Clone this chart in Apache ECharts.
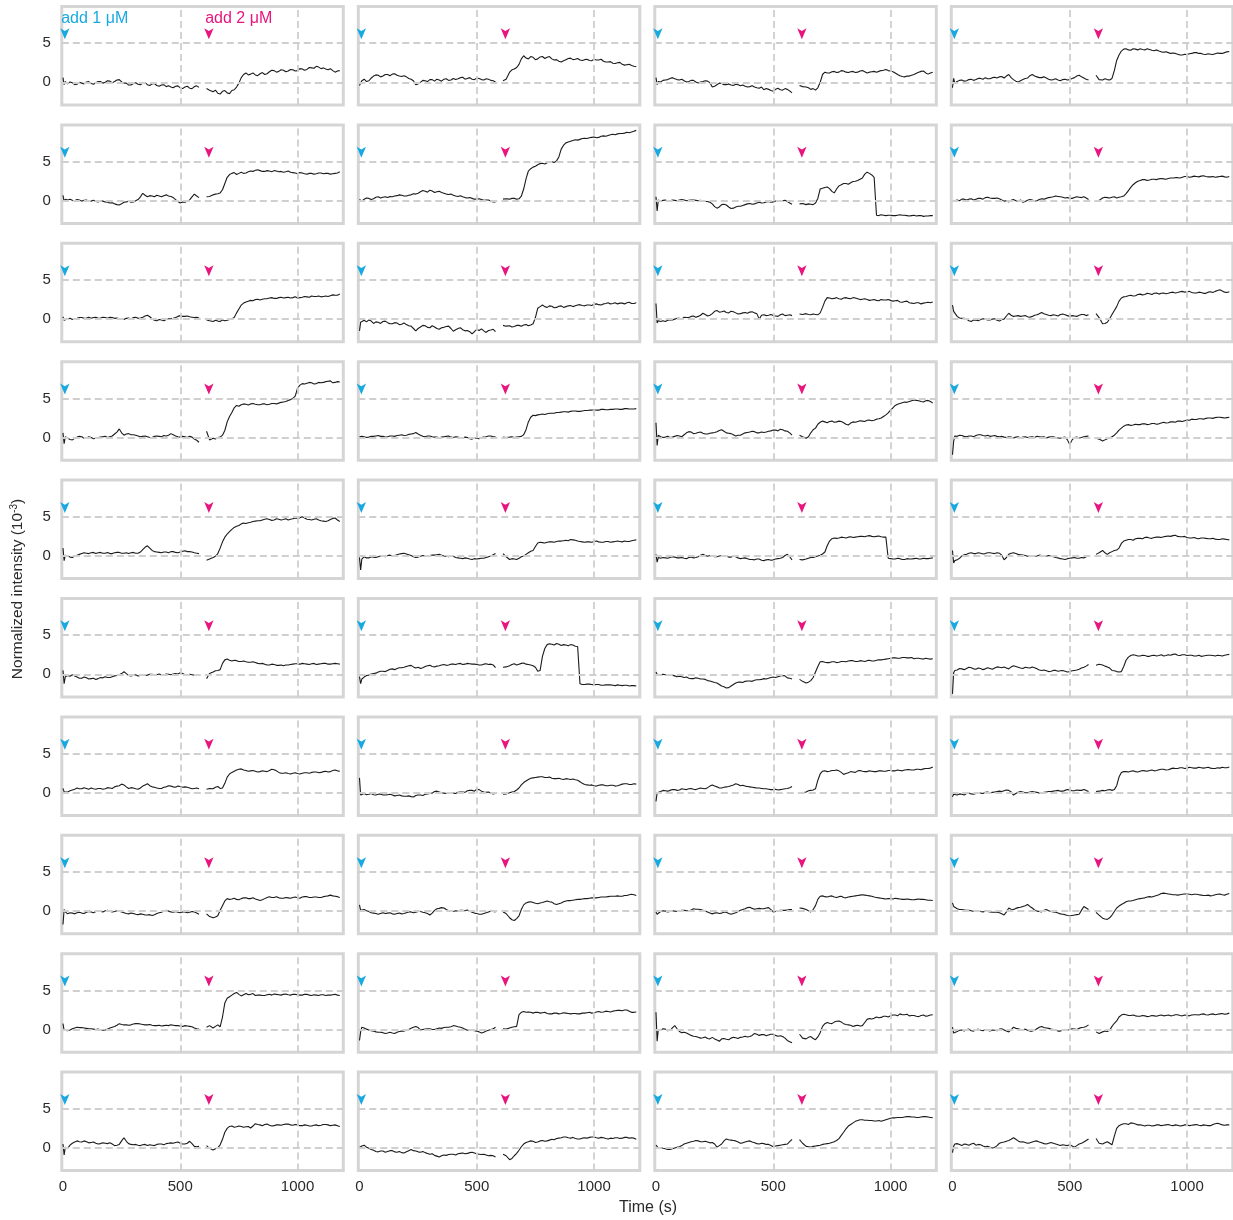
<!DOCTYPE html>
<html>
<head>
<meta charset="utf-8">
<title>Normalized intensity traces</title>
<script src="https://cdn.jsdelivr.net/npm/echarts@6/dist/echarts.min.js"></script>
<style>
  html, body { margin: 0; padding: 0; background: #ffffff; }
  #chart { width: 1233px; height: 1220px; }
</style>
</head>
<body>
<div id="chart"></div>
<script>
// ---- sampling times (s) of the two recording segments ----
// main samples
const timeBefore = [0, 5, 10, 20, 40, 60, 80, 100, 120, 140, 160, 180, 200, 220, 240, 260, 280, 300,
  320, 340, 360, 380, 400, 420, 440, 460, 480, 500, 520, 540, 560, 580];
const timeAfter = [612, 625, 640, 660, 680, 700, 720, 740, 760, 780, 800, 820, 840, 860, 880, 900,
  920, 940, 960, 980, 1000, 1020, 1040, 1060, 1080, 1100, 1120, 1140, 1160, 1180];
// in-between samples
const timeBeforeMid = [30, 50, 70, 90, 110, 130, 150, 170, 190, 210, 230, 250, 270, 290, 310, 330,
  350, 370, 390, 410, 430, 450, 470, 490, 510, 530, 550, 570];
const timeAfterMid = [650, 670, 690, 710, 730, 750, 770, 790, 810, 830, 850, 870, 890, 910, 930,
  950, 970, 990, 1010, 1030, 1050, 1070, 1090, 1110, 1130, 1150, 1170];

// ---- axis ticks / grid lines ----
const xTickValues = [0, 500, 1000];
const yTickValues = [0, 5];
const xGridValues = [500, 1000];
const yGridValues = [0, 5];

// ---- additions (time in s) ----
const additionTimes = [8, 622];
const additionLabels = ['add 1 \u03bcM', 'add 2 \u03bcM'];
const arrowLevel = 5.5;

// ---- traces, normalized intensity (10^-3):
// [before (timeBefore), after (timeAfter), before (timeBeforeMid), after (timeAfterMid)] ----
const r1c1 = [
  [0.6,-0.3,0.1,-0.2,-0.05,-0.25,-0.1,0.05,-0.15,-0.05,0.1,0.0,0.15,0.1,0.35,-0.1,-0.35,-0.15,-0.25,-0.1,-0.3,-0.2,-0.4,-0.35,-0.55,-0.6,-0.5,-0.7,-0.6,-0.75,-0.55,-0.65],
  [-0.8,-1.0,-1.2,-1.4,-1.15,-1.35,-1.05,-0.6,0.6,1.2,1.05,0.95,1.1,1.0,1.35,1.5,1.4,1.55,1.45,1.6,1.5,1.7,1.65,1.85,2.05,1.75,1.7,1.75,1.3,1.5],
  [0.05,-0.3,0.0,-0.2,0.1,-0.25,0.1,-0.1,0.2,-0.05,0.3,0.05,-0.1,-0.35,-0.05,-0.3,-0.05,-0.4,-0.15,-0.5,-0.3,-0.45,-0.7,-0.45,-0.8,-0.5,-0.8,-0.45],
  [-1.0,-1.5,-1.05,-1.45,-0.95,-0.1,1.0,0.95,1.2,0.85,1.25,1.1,1.55,1.3,1.6,1.35,1.65,1.45,1.75,1.55,1.9,1.8,1.95,1.85,1.6,1.5,1.45]];
const r1c2 = [
  [-0.4,-0.1,0.2,0.4,0.2,0.8,0.9,0.8,1.0,1.05,0.9,0.75,0.7,0.4,-0.3,0.0,0.2,0.35,0.15,0.3,0.4,0.25,0.5,0.45,0.65,0.5,0.4,0.55,0.35,0.45,0.25,0.05],
  [0.2,0.4,1.3,1.7,2.3,3.4,3.0,3.2,3.0,3.3,3.2,3.0,2.9,2.6,2.9,3.1,2.95,2.85,2.9,2.8,2.95,2.85,2.7,2.6,2.45,2.5,2.3,2.25,2.15,2.0],
  [0.1,0.55,0.95,0.7,1.0,0.85,1.1,0.8,0.85,0.5,0.2,-0.2,0.25,0.1,0.35,0.4,0.15,0.45,0.3,0.35,0.6,0.4,0.6,0.35,0.5,0.3,0.4,0.2],
  [1.6,1.9,3.0,3.1,3.3,2.9,3.25,3.05,3.3,2.85,2.7,2.75,3.05,2.9,3.05,2.8,2.95,2.75,2.85,2.95,2.6,2.65,2.4,2.55,2.2,2.3,2.05]];
const r1c3 = [
  [0.6,-0.3,0.1,0.05,0.3,0.5,0.45,0.3,0.2,0.1,0.25,-0.1,0.1,0.15,-0.6,-0.3,-0.15,-0.3,-0.35,-0.25,-0.45,-0.5,-0.55,-0.6,-0.75,-0.95,-0.9,-1.15,-0.75,-1.0,-0.9,-1.35],
  [-0.4,-0.55,-0.6,-0.9,-1.0,0.0,1.3,1.2,1.4,1.3,1.45,1.25,1.4,1.3,1.5,1.2,1.35,1.3,1.5,1.65,1.45,1.2,0.85,0.7,0.8,1.0,1.3,1.45,1.05,1.3],
  [0.25,0.35,0.6,0.35,0.4,0.05,0.25,0.05,0.05,0.2,-0.05,-0.5,-0.1,-0.3,-0.2,-0.4,-0.3,-0.35,-0.6,-0.45,-0.7,-0.6,-0.8,-1.05,-0.9,-0.95,-0.8,-1.1],
  [-0.7,-0.8,-0.7,1.0,1.2,1.35,1.25,1.5,1.3,1.35,1.25,1.45,1.35,1.3,1.4,1.4,1.55,1.5,1.35,1.0,0.75,0.8,0.9,1.15,1.4,1.2,1.2]];
const r1c4 = [
  [-0.7,0.5,-0.1,0.1,0.3,0.2,0.4,0.35,0.5,0.6,0.45,0.65,0.7,0.55,1.0,0.35,0.05,0.35,0.55,1.0,0.7,0.6,0.55,0.3,0.45,0.2,0.4,0.35,0.6,0.9,0.55,0.3],
  [0.9,0.35,0.3,0.35,0.5,2.8,4.0,4.3,4.1,4.25,4.3,4.15,4.2,4.05,4.0,3.85,3.8,3.75,3.6,3.5,3.55,3.7,3.8,3.7,3.55,3.6,3.65,3.7,3.8,3.95],
  [0.25,0.15,0.35,0.25,0.5,0.4,0.45,0.6,0.55,0.75,0.8,0.6,0.15,0.2,0.5,0.85,0.8,0.6,0.7,0.4,0.35,0.3,0.35,0.3,0.5,0.8,0.7,0.4],
  [0.45,0.3,1.5,3.5,4.25,4.15,4.3,4.15,4.2,4.3,4.1,4.15,3.9,3.9,3.7,3.7,3.5,3.6,3.65,3.8,3.7,3.6,3.65,3.55,3.75,3.7,3.9]];

const r2c1 = [
  [0.7,-0.1,0.2,0.1,0.05,0.15,-0.05,0.1,-0.05,-0.1,0.0,-0.15,-0.3,-0.4,-0.55,-0.2,-0.05,-0.15,0.15,0.95,0.5,0.6,0.7,0.5,0.75,0.55,0.15,-0.3,-0.2,0.1,0.85,0.4],
  [0.5,0.55,0.75,0.9,1.4,3.0,3.5,3.35,3.65,3.55,3.8,3.9,3.85,3.75,3.8,3.85,3.7,3.65,3.8,3.6,3.45,3.55,3.4,3.5,3.45,3.55,3.5,3.4,3.5,3.7],
  [0.2,0.0,0.1,0.05,-0.05,0.05,-0.15,-0.05,-0.2,-0.25,-0.5,-0.4,-0.15,-0.2,0.0,0.5,0.7,0.65,0.5,0.6,0.65,0.6,0.4,-0.1,-0.15,-0.05,0.5,0.6],
  [0.85,1.0,2.2,3.35,3.6,3.5,3.5,3.7,3.75,3.95,3.75,3.85,3.7,3.8,3.75,3.7,3.65,3.55,3.6,3.45,3.5,3.4,3.55,3.45,3.5,3.45,3.55]];
const r2c2 = [
  [0.15,-0.1,-0.05,0.2,0.3,0.25,0.5,0.45,0.4,0.5,0.65,0.7,0.6,0.75,0.85,1.15,1.2,1.35,1.05,1.2,0.95,0.8,0.7,0.55,0.5,0.35,0.3,0.2,0.15,0.1,-0.05,-0.15],
  [0.2,0.25,0.2,0.3,0.25,1.5,3.8,4.3,4.6,4.8,4.85,5.0,5.1,6.6,7.4,7.6,7.8,7.85,8.0,8.05,8.15,8.1,8.3,8.35,8.5,8.55,8.6,8.75,8.8,9.0],
  [0.35,0.15,0.45,0.35,0.5,0.55,0.6,0.75,0.6,0.7,0.9,0.95,1.3,1.1,1.25,1.15,1.05,0.85,0.85,0.6,0.65,0.4,0.4,0.2,0.25,0.05,0.1,-0.15],
  [0.3,0.2,0.6,2.8,4.1,4.4,4.75,4.7,4.95,4.9,5.6,7.1,7.5,7.7,7.75,7.95,7.95,8.1,8.05,8.25,8.25,8.45,8.45,8.6,8.65,8.7,8.9]];
const r2c3 = [
  [0.5,-1.3,0.1,-0.1,0.1,0.0,0.05,0.1,0.1,0.05,0.1,0.0,-0.05,-0.1,-0.4,-0.95,-0.5,-0.55,-1.0,-0.8,-0.7,-0.5,-0.35,-0.4,-0.2,-0.25,-0.1,-0.15,-0.05,0.0,-0.1,-0.45],
  [-0.4,-0.35,-0.5,-0.45,-0.3,1.5,1.7,1.55,1.0,1.9,2.2,2.1,2.45,2.6,2.9,3.65,3.3,-1.85,-1.8,-1.9,-1.85,-1.9,-1.8,-1.85,-1.95,-1.85,-1.9,-2.0,-1.95,-1.9],
  [0.05,-0.05,0.1,0.0,0.15,0.0,0.1,0.05,0.05,-0.1,-0.2,-0.75,-0.8,-0.45,-0.8,-0.95,-0.7,-0.6,-0.4,-0.45,-0.3,-0.3,-0.15,-0.2,-0.05,-0.1,0.05,-0.3],
  [-0.4,-0.5,0.3,1.6,1.75,1.2,1.5,2.05,2.2,2.3,2.5,2.75,3.4,3.5,3.0,-1.9,-1.85,-1.85,-1.9,-1.85,-1.85,-1.9,-1.9,-1.95,-1.9,-1.95,-1.9]];
const r2c4 = [
  [-0.1,0.1,0.0,0.1,0.2,0.1,0.25,0.2,0.3,0.4,0.35,0.3,0.25,-0.05,-0.15,0.15,-0.05,-0.2,0.05,0.1,0.0,0.25,0.3,0.45,0.6,0.5,0.35,0.3,0.4,0.45,0.5,0.15],
  [-0.1,0.05,0.35,0.4,0.45,0.35,0.5,0.9,1.7,2.3,2.6,2.7,2.65,2.75,2.8,2.8,2.85,2.9,2.95,3.0,3.1,3.05,3.1,3.15,3.1,3.05,3.0,3.1,3.05,3.1],
  [0.0,0.2,0.2,0.1,0.3,0.2,0.45,0.3,0.35,0.1,0.0,0.05,0.0,0.1,-0.1,0.15,-0.05,0.15,0.2,0.4,0.5,0.55,0.45,0.4,0.3,0.5,0.4,0.35],
  [0.45,0.35,0.5,0.45,0.6,1.3,2.05,2.5,2.7,2.6,2.75,2.7,2.85,2.75,2.9,2.95,2.9,3.1,3.0,3.15,3.05,3.2,3.05,3.1,3.05,3.15,3.0]];

const r3c1 = [
  [0.3,-0.15,0.0,0.05,-0.05,0.1,0.2,0.15,0.1,0.25,0.15,0.2,0.25,0.1,0.05,-0.05,0.15,0.2,0.1,0.25,0.5,0.05,-0.2,-0.1,-0.05,0.05,0.2,0.45,0.35,0.3,0.2,0.15],
  [-0.1,-0.2,-0.3,-0.25,-0.1,-0.15,0.05,0.8,1.8,2.2,2.4,2.5,2.45,2.6,2.7,2.65,2.75,2.7,2.8,2.75,2.7,2.8,2.85,2.95,2.9,2.85,2.95,3.0,3.05,3.2],
  [0.1,0.05,0.2,0.1,0.25,0.2,0.1,0.25,0.1,0.2,0.15,0.0,0.1,0.0,0.25,0.15,0.4,0.3,-0.15,-0.05,-0.2,0.05,0.1,0.35,0.35,0.4,0.25,0.25],
  [-0.15,-0.3,-0.2,-0.05,0.2,1.3,2.05,2.3,2.35,2.55,2.55,2.6,2.75,2.65,2.8,2.75,2.7,2.85,2.75,2.9,2.8,2.9,2.95,2.9,2.9,3.1,3.05]];
const r3c2 = [
  [-1.5,-0.4,-0.2,-0.15,-0.1,-0.55,-0.4,-0.3,-0.45,-0.6,-0.5,-0.65,-0.7,-0.9,-1.5,-1.0,-0.85,-1.1,-1.0,-1.3,-1.05,-0.9,-1.55,-1.2,-1.35,-1.45,-1.9,-1.3,-1.25,-1.7,-1.4,-1.6],
  [-0.8,-0.9,-0.85,-0.95,-0.8,-0.75,-0.85,-0.6,1.4,1.8,1.5,1.65,1.5,1.7,1.6,1.75,1.7,1.85,1.7,1.8,1.9,1.85,1.95,2.1,2.0,1.95,2.05,2.1,2.0,2.1],
  [-0.35,-0.25,-0.35,-0.55,-0.25,-0.6,-0.45,-0.7,-0.5,-0.85,-1.2,-1.2,-0.8,-1.05,-0.85,-1.2,-1.1,-0.95,-1.2,-1.35,-1.1,-1.5,-1.6,-1.6,-1.45,-1.5,-1.45,-1.3],
  [-1.0,-0.8,-0.9,-0.7,-0.75,0.2,1.6,1.6,1.7,1.45,1.65,1.5,1.7,1.6,1.8,1.75,1.8,1.75,1.95,1.8,2.0,1.95,2.1,2.05,1.95,2.15,2.0]];
const r3c3 = [
  [2.0,-0.5,-0.2,-0.3,-0.3,-0.1,0.0,0.1,0.25,0.2,0.4,0.35,0.75,0.4,0.7,1.1,0.95,0.85,1.0,0.8,0.7,0.85,0.9,0.8,0.0,0.55,0.5,0.45,0.35,0.65,0.5,0.45],
  [0.65,0.6,0.7,0.55,0.6,0.8,2.3,2.7,2.65,2.6,2.7,2.65,2.75,2.6,2.55,2.5,2.45,2.4,2.5,2.45,2.4,2.35,2.2,2.25,2.1,2.0,2.1,2.05,2.15,2.2],
  [-0.2,-0.15,-0.1,0.1,0.0,0.2,0.35,0.25,0.5,0.6,0.5,1.0,0.9,1.05,0.8,0.95,0.65,0.8,0.75,0.95,0.7,0.5,0.45,0.6,0.4,0.55,0.45,0.55],
  [0.6,0.65,0.55,1.5,2.75,2.6,2.75,2.55,2.75,2.6,2.7,2.5,2.6,2.4,2.5,2.35,2.45,2.5,2.3,2.4,2.15,2.3,2.05,2.1,1.95,2.1,2.1]];
const r3c4 = [
  [1.8,1.0,0.8,0.35,0.1,0.0,-0.3,-0.15,-0.05,0.0,-0.1,0.05,-0.25,0.0,0.75,0.35,0.45,0.4,0.3,0.35,0.55,0.85,0.6,0.45,0.5,0.6,0.55,0.35,0.4,0.5,0.6,0.55],
  [0.7,0.2,-0.6,-0.4,0.6,1.6,2.7,2.9,3.05,3.0,3.2,3.15,3.25,3.3,3.2,3.35,3.3,3.45,3.4,3.55,3.5,3.4,3.35,3.4,3.3,3.5,3.55,3.75,3.45,3.5],
  [0.15,0.1,-0.2,-0.1,-0.2,0.05,-0.1,0.0,-0.15,-0.05,0.4,0.5,0.4,0.35,0.45,0.25,0.5,0.7,0.7,0.5,0.55,0.4,0.65,0.45,0.45,0.35,0.6,0.45],
  [-0.55,0.05,1.1,2.3,2.85,3.0,2.95,3.15,3.1,3.3,3.15,3.35,3.3,3.25,3.4,3.35,3.5,3.45,3.55,3.35,3.45,3.3,3.45,3.4,3.65,3.6,3.4]];

const r4c1 = [
  [0.6,-0.8,0.1,-0.1,-0.3,0.05,0.1,-0.05,0.0,-0.1,0.05,0.15,0.1,0.45,1.1,0.3,0.5,0.35,0.2,0.15,0.1,0.0,0.2,0.1,0.2,0.5,0.2,0.05,0.1,0.15,-0.2,-0.6],
  [0.8,-0.3,-0.1,0.0,0.3,2.0,3.2,4.1,4.2,4.25,4.3,4.25,4.2,4.3,4.25,4.35,4.4,4.55,4.75,5.0,6.3,6.9,6.95,7.0,6.9,7.0,7.15,7.25,7.05,7.1],
  [-0.25,-0.1,0.15,-0.1,0.1,-0.15,0.0,0.1,0.0,0.2,0.7,0.6,0.45,0.35,0.3,0.1,0.2,0.0,0.15,0.15,0.25,0.3,0.35,0.1,0.15,0.0,0.05,-0.35],
  [-0.2,0.05,0.9,2.7,3.8,4.0,4.3,4.15,4.35,4.2,4.3,4.2,4.35,4.3,4.5,4.6,4.85,5.3,6.7,6.85,7.05,6.85,7.05,7.05,7.2,7.0,7.15]];
const r4c2 = [
  [0.1,0.05,0.15,0.1,0.05,0.15,0.25,0.15,0.1,0.2,0.25,0.35,0.3,0.45,0.65,0.3,0.1,0.2,0.05,-0.05,0.1,0.2,0.0,0.05,-0.05,0.0,-0.2,-0.1,0.0,0.1,0.2,0.1],
  [0.05,0.0,0.05,0.0,0.1,0.35,2.0,2.85,2.9,3.0,3.05,3.1,3.2,3.25,3.3,3.35,3.4,3.35,3.45,3.5,3.55,3.5,3.6,3.55,3.6,3.65,3.6,3.7,3.65,3.7],
  [0.0,0.15,0.2,0.15,0.05,0.2,0.15,0.3,0.25,0.4,0.5,0.45,0.15,0.2,0.1,0.05,0.05,0.15,0.05,0.1,-0.05,0.05,-0.15,-0.05,-0.15,0.05,0.2,0.1],
  [0.1,0.05,0.15,1.0,2.6,2.8,2.95,2.95,3.1,3.1,3.2,3.3,3.25,3.4,3.35,3.4,3.45,3.5,3.5,3.6,3.55,3.6,3.65,3.6,3.7,3.65,3.65]];
const r4c3 = [
  [1.9,-1.0,0.3,0.1,0.05,0.0,0.15,0.2,0.35,0.75,0.5,0.65,0.55,0.45,0.6,0.75,1.0,0.6,0.5,0.2,0.3,0.6,0.7,0.75,0.6,0.65,0.8,0.95,0.85,1.0,0.8,0.3],
  [0.3,0.1,-0.1,0.6,1.2,1.95,2.0,2.05,1.95,2.1,1.9,1.6,2.0,2.05,2.1,2.2,2.15,2.35,2.5,2.9,3.5,4.1,4.35,4.55,4.6,4.8,4.7,4.55,4.75,4.4],
  [0.0,0.15,0.05,0.25,0.1,0.6,0.7,0.55,0.7,0.45,0.55,0.65,0.9,0.8,0.55,0.35,0.3,0.45,0.65,0.8,0.6,0.7,0.7,0.85,0.95,1.05,0.85,0.6],
  [0.1,1.0,1.7,2.1,1.9,2.1,2.0,2.05,1.7,1.85,1.95,2.15,2.05,2.25,2.2,2.4,2.7,3.15,3.8,4.25,4.45,4.5,4.7,4.75,4.6,4.7,4.6]];
const r4c4 = [
  [-2.2,-0.5,0.2,0.15,0.25,0.1,0.2,0.25,0.35,0.2,0.15,0.25,0.1,0.05,0.1,-0.05,0.1,0.05,0.0,0.1,0.15,0.05,-0.05,0.1,0.0,-0.1,0.05,-0.9,0.0,-0.05,0.1,0.2],
  [-0.1,-0.2,-0.45,-0.15,0.1,0.6,1.2,1.6,1.55,1.7,1.65,1.75,1.7,1.8,1.75,1.95,1.9,2.0,2.1,2.05,2.25,2.35,2.3,2.4,2.45,2.5,2.55,2.6,2.5,2.6],
  [0.3,0.15,0.2,0.1,0.35,0.25,0.3,0.2,0.15,0.15,0.0,0.05,0.05,-0.05,0.1,0.05,0.0,0.1,0.1,0.05,0.1,-0.05,0.0,-0.3,-0.3,0.05,0.0,0.15],
  [-0.3,-0.05,0.3,0.95,1.45,1.65,1.6,1.65,1.75,1.65,1.8,1.7,1.85,1.85,2.0,1.95,2.1,2.15,2.2,2.3,2.4,2.35,2.5,2.45,2.6,2.55,2.55]];

const r5c1 = [
  [1.0,-0.6,0.1,0.0,-0.2,0.1,0.3,0.35,0.4,0.3,0.45,0.35,0.3,0.4,0.45,0.35,0.3,0.45,0.35,0.8,1.3,0.7,0.5,0.4,0.5,0.55,0.45,0.5,0.65,0.55,0.4,0.3],
  [-0.55,-0.4,-0.2,0.3,1.8,2.8,3.4,3.8,4.1,4.15,4.3,4.45,4.5,4.7,4.65,4.6,4.7,4.65,4.6,4.75,4.8,5.0,4.7,4.6,4.75,4.5,4.4,4.65,4.85,4.4],
  [-0.15,0.0,0.2,0.4,0.3,0.45,0.4,0.35,0.45,0.3,0.45,0.35,0.4,0.4,0.35,0.5,1.1,1.0,0.55,0.45,0.5,0.4,0.55,0.4,0.6,0.55,0.5,0.35],
  [-0.05,1.0,2.4,3.1,3.65,3.9,4.2,4.25,4.4,4.5,4.6,4.75,4.55,4.75,4.6,4.75,4.7,4.85,4.9,4.85,4.65,4.7,4.6,4.45,4.5,4.8,4.6]];
const r5c2 = [
  [-0.2,-1.8,-0.4,-0.1,-0.25,-0.15,-0.1,-0.05,0.05,0.0,0.15,0.3,0.25,0.05,-0.2,-0.05,0.0,0.05,0.1,0.2,0.0,-0.1,-0.05,-0.25,-0.35,-0.3,-0.45,-0.4,-0.3,-0.2,0.0,0.3],
  [0.3,-0.1,-0.45,-0.4,-0.3,0.0,0.4,0.7,1.65,1.7,1.75,1.8,1.85,1.9,2.0,2.1,2.0,1.85,1.75,1.8,1.85,1.8,1.75,1.85,1.8,1.9,1.8,1.85,1.95,2.05],
  [-0.25,-0.1,-0.2,0.0,-0.1,0.1,0.05,0.25,0.35,0.15,-0.1,-0.15,0.05,-0.05,0.1,0.15,0.1,-0.05,0.0,-0.2,-0.3,-0.25,-0.4,-0.35,-0.35,-0.3,-0.1,0.15],
  [-0.35,-0.45,-0.1,0.2,0.6,1.2,1.75,1.65,1.8,1.75,1.9,1.95,1.95,2.05,1.9,1.8,1.8,1.75,1.9,1.75,1.85,1.75,1.85,1.85,1.9,1.85,2.0]];
const r5c3 = [
  [0.2,-0.8,-0.2,-0.3,-0.25,-0.2,-0.15,-0.25,-0.3,-0.2,-0.25,-0.1,0.2,-0.05,0.0,-0.1,0.05,-0.05,-0.15,-0.1,-0.35,-0.25,-0.45,-0.5,-0.4,-0.6,-0.45,-0.5,-0.35,-0.2,0.2,-0.5],
  [-0.45,-0.5,-0.4,-0.2,-0.1,0.1,0.5,1.9,2.3,2.3,2.35,2.4,2.35,2.45,2.5,2.55,2.5,2.5,2.45,2.4,-0.35,-0.4,-0.35,-0.45,-0.4,-0.35,-0.4,-0.3,-0.35,-0.25],
  [-0.2,-0.3,-0.1,-0.25,-0.2,-0.35,-0.15,-0.2,0.1,0.05,0.05,-0.1,0.0,-0.05,-0.15,-0.05,-0.25,-0.3,-0.35,-0.45,-0.4,-0.55,-0.5,-0.55,-0.4,-0.3,0.05,-0.1],
  [-0.3,-0.2,0.0,0.25,1.3,2.2,2.25,2.4,2.3,2.45,2.4,2.5,2.45,2.6,2.45,2.55,2.4,-0.3,-0.4,-0.3,-0.45,-0.35,-0.4,-0.3,-0.4,-0.35,-0.3]];
const r5c4 = [
  [0.7,-0.9,-0.6,-0.5,0.0,0.2,0.4,0.3,0.35,0.3,0.4,0.3,0.35,-0.5,0.2,0.4,0.2,0.1,-0.05,0.05,0.0,0.05,-0.05,0.0,-0.2,-0.35,-0.45,-0.3,-0.2,-0.3,-0.25,0.0],
  [0.2,0.4,0.7,0.2,0.55,0.75,1.6,2.0,2.1,2.2,2.25,2.35,2.3,2.35,2.4,2.45,2.55,2.6,2.5,2.45,2.35,2.3,2.25,2.3,2.25,2.2,2.15,2.1,2.15,2.05],
  [-0.3,0.15,0.35,0.3,0.4,0.25,0.4,0.35,0.4,0.1,-0.2,0.35,0.3,0.15,0.05,0.05,-0.05,0.1,-0.05,0.05,-0.1,-0.25,-0.4,-0.35,-0.25,-0.3,-0.2,-0.1],
  [0.4,0.4,0.7,1.0,1.9,2.1,2.0,2.25,2.2,2.4,2.25,2.4,2.35,2.5,2.5,2.65,2.45,2.5,2.3,2.35,2.2,2.3,2.2,2.25,2.1,2.2,2.1]];

const r6c1 = [
  [0.5,-1.2,-0.3,-0.15,-0.05,-0.35,-0.5,-0.45,-0.55,-0.65,-0.4,-0.3,-0.4,-0.2,-0.05,0.35,-0.15,-0.1,-0.2,-0.05,-0.1,0.0,-0.05,-0.1,0.05,-0.05,0.1,0.2,-0.05,0.0,-0.1,-0.05],
  [-0.55,0.1,0.3,0.5,1.4,1.95,1.7,1.75,1.65,1.6,1.55,1.5,1.35,1.3,1.2,1.25,1.15,1.1,1.2,1.3,1.35,1.4,1.3,1.35,1.25,1.35,1.4,1.3,1.4,1.3],
  [-0.25,-0.2,-0.5,-0.35,-0.6,-0.5,-0.55,-0.45,-0.4,-0.3,-0.15,0.1,0.1,-0.2,-0.05,-0.15,-0.15,0.0,-0.1,0.05,-0.1,0.0,0.05,0.05,0.1,-0.1,-0.05,-0.15],
  [0.45,0.6,1.85,1.8,1.8,1.65,1.7,1.55,1.6,1.4,1.4,1.2,1.3,1.15,1.2,1.2,1.25,1.35,1.3,1.35,1.25,1.4,1.3,1.4,1.3,1.35,1.35]];
const r6c2 = [
  [-0.3,-1.2,-0.6,-0.35,-0.1,0.1,0.3,0.4,0.5,0.7,0.75,0.85,1.0,1.15,0.8,0.75,1.0,1.15,0.95,1.1,1.25,1.2,1.3,1.35,1.25,1.4,1.3,1.25,1.2,1.35,1.3,0.85],
  [0.9,0.95,1.1,1.35,1.3,1.45,1.25,1.1,0.4,2.3,3.8,3.85,3.95,3.7,3.75,3.8,3.6,-1.2,-1.3,-1.25,-1.35,-1.3,-1.4,-1.35,-1.4,-1.35,-1.45,-1.4,-1.45,-1.5],
  [-0.15,0.05,0.15,0.4,0.35,0.65,0.6,0.85,0.9,1.1,0.95,0.9,0.85,1.1,1.0,1.05,1.2,1.15,1.3,1.25,1.4,1.3,1.35,1.3,1.2,1.3,1.25,1.2],
  [1.25,1.2,1.4,1.3,1.2,0.9,0.5,3.3,3.9,3.75,3.85,3.8,3.65,3.75,3.55,-1.3,-1.25,-1.3,-1.3,-1.4,-1.35,-1.35,-1.45,-1.4,-1.4,-1.5,-1.45]];
const r6c3 = [
  [0.3,0.0,-0.05,-0.1,-0.05,-0.15,-0.2,-0.25,-0.4,-0.5,-0.55,-0.5,-0.6,-0.8,-0.95,-1.1,-1.5,-1.75,-1.5,-1.1,-1.0,-0.9,-0.85,-0.75,-0.7,-0.55,-0.5,-0.35,-0.3,-0.15,-0.45,-0.6],
  [-0.65,-0.9,-1.1,-0.8,0.3,1.6,1.55,1.5,1.6,1.55,1.65,1.7,1.75,1.65,1.7,1.75,1.7,1.8,1.85,1.95,2.05,2.1,2.05,2.15,2.1,2.0,2.05,1.95,2.0,2.0],
  [0.0,-0.15,-0.1,-0.3,-0.3,-0.35,-0.55,-0.45,-0.6,-0.65,-0.85,-1.05,-1.3,-1.6,-1.7,-1.3,-1.0,-1.05,-0.85,-0.9,-0.7,-0.65,-0.6,-0.4,-0.4,-0.2,-0.2,-0.5],
  [-1.0,-0.4,1.0,1.65,1.5,1.6,1.5,1.65,1.6,1.75,1.65,1.75,1.65,1.8,1.7,1.85,1.9,2.0,2.1,2.05,2.15,2.1,2.15,2.05,2.0,2.05,1.95]];
const r6c4 = [
  [-2.5,0.2,0.5,0.55,0.7,0.75,0.85,0.65,0.75,0.7,0.75,0.8,0.9,0.95,0.7,1.1,0.9,0.75,0.85,0.95,0.7,0.5,0.45,0.4,0.5,0.45,0.4,0.35,0.5,0.65,0.9,1.25],
  [1.15,1.3,1.2,0.95,0.5,0.35,0.35,1.8,2.4,2.45,2.35,2.4,2.3,2.45,2.4,2.35,2.5,2.55,2.45,2.5,2.4,2.45,2.35,2.3,2.4,2.45,2.35,2.4,2.45,2.55],
  [0.75,0.6,0.9,0.7,0.8,0.6,0.85,0.65,0.95,0.85,0.8,0.95,1.0,0.8,0.9,0.8,0.85,0.55,0.55,0.35,0.5,0.4,0.5,0.3,0.45,0.55,0.8,1.05],
  [1.05,0.8,0.45,0.3,1.0,2.2,2.5,2.35,2.45,2.3,2.4,2.35,2.5,2.4,2.45,2.6,2.4,2.5,2.45,2.35,2.45,2.35,2.45,2.4,2.45,2.35,2.5]];

const r7c1 = [
  [0.55,0.1,0.2,0.1,0.35,0.6,0.5,0.55,0.6,0.45,0.55,0.5,0.6,0.75,0.9,1.0,0.55,0.6,0.45,0.85,1.15,0.75,0.6,0.55,0.75,0.85,0.7,0.8,0.75,0.6,0.55,0.5],
  [0.45,0.55,0.5,0.8,0.6,2.0,2.6,2.9,3.05,2.85,2.8,2.75,2.7,2.75,2.85,2.95,2.6,2.5,2.45,2.5,2.45,2.5,2.55,2.6,2.65,2.6,2.75,2.7,2.9,2.75],
  [0.25,0.45,0.5,0.65,0.45,0.5,0.55,0.45,0.65,0.55,0.85,1.1,0.75,0.65,0.5,0.6,1.0,0.9,0.7,0.55,0.7,0.9,0.75,0.85,0.7,0.7,0.5,0.6],
  [0.7,0.55,1.2,2.4,2.75,3.0,2.9,2.75,2.85,2.65,2.8,2.7,3.0,2.8,2.5,2.55,2.4,2.55,2.4,2.55,2.5,2.65,2.55,2.7,2.65,2.85,2.8]];
const r7c2 = [
  [1.9,-0.3,-0.15,-0.1,-0.2,-0.25,-0.2,-0.3,-0.25,-0.3,-0.35,-0.4,-0.45,-0.5,-0.35,-0.3,-0.2,-0.1,0.15,0.1,-0.05,-0.1,-0.05,0.05,0.1,0.25,0.3,0.45,0.2,0.05,-0.05,-0.1],
  [-0.2,-0.15,0.0,0.15,0.6,1.3,1.7,1.9,2.0,2.05,1.95,1.85,1.8,1.75,1.8,1.7,1.65,1.4,1.05,0.95,0.9,0.95,1.0,0.9,0.95,0.9,1.1,1.15,1.05,1.1],
  [-0.25,-0.1,-0.3,-0.15,-0.3,-0.2,-0.4,-0.3,-0.45,-0.4,-0.55,-0.3,-0.35,-0.15,-0.05,0.2,0.0,-0.1,0.0,-0.1,0.1,0.05,0.3,0.2,0.4,0.1,0.1,-0.15],
  [0.1,0.35,1.0,1.5,1.85,1.95,2.05,1.95,2.0,1.8,1.85,1.7,1.75,1.75,1.6,1.2,1.0,1.0,0.85,1.0,0.9,0.95,0.85,1.0,1.15,1.05,1.15]];
const r7c3 = [
  [-1.1,0.0,0.1,0.15,0.25,0.3,0.4,0.35,0.45,0.5,0.45,0.5,0.55,0.65,1.0,0.75,0.6,0.75,0.9,1.15,0.9,0.85,0.75,0.65,0.6,0.5,0.45,0.4,0.35,0.45,0.55,0.8],
  [-0.1,0.0,0.1,0.3,0.5,2.4,2.8,2.75,2.85,2.8,2.35,2.55,2.65,2.8,2.75,2.7,2.75,2.7,2.8,2.75,2.85,2.8,2.85,2.9,2.95,2.9,3.0,3.05,3.1,3.3],
  [0.3,0.2,0.4,0.3,0.5,0.4,0.55,0.4,0.6,0.5,0.85,0.85,0.6,0.7,0.8,1.0,1.05,0.95,0.8,0.7,0.6,0.55,0.5,0.4,0.45,0.4,0.5,0.65],
  [0.25,0.35,1.6,2.75,2.7,2.85,2.9,2.6,2.45,2.7,2.6,2.85,2.7,2.8,2.7,2.8,2.75,2.85,2.8,2.9,2.8,2.95,2.9,3.0,2.95,3.1,3.15]];
const r7c4 = [
  [-0.5,-0.2,-0.15,-0.3,-0.2,-0.1,-0.15,-0.1,-0.05,0.05,0.0,0.1,0.2,0.25,0.3,-0.3,0.05,0.1,0.0,0.15,0.05,-0.05,0.1,0.15,0.25,0.2,0.3,0.35,0.25,0.3,0.4,0.15],
  [0.15,0.2,0.3,0.35,0.3,0.9,2.6,2.7,2.75,2.7,2.75,2.8,2.85,2.8,2.95,3.0,2.95,3.15,3.1,3.2,3.15,3.2,3.15,3.2,3.2,3.15,3.1,3.15,3.2,3.3],
  [-0.15,-0.3,-0.05,-0.2,0.0,-0.1,0.1,0.05,0.15,0.15,0.35,0.1,-0.1,0.15,0.0,0.1,0.1,-0.05,0.05,0.15,0.2,0.3,0.2,0.4,0.25,0.35,0.3,0.3],
  [0.25,0.4,0.4,2.0,2.7,2.65,2.8,2.65,2.85,2.75,2.9,2.85,3.0,2.9,3.05,3.1,3.2,3.1,3.25,3.15,3.25,3.15,3.25,3.1,3.2,3.25,3.2]];

const r8c1 = [
  [-1.7,0.2,-0.1,-0.35,-0.25,-0.2,-0.25,-0.15,-0.1,-0.05,0.0,0.05,0.0,-0.05,0.0,-0.2,-0.35,-0.3,-0.45,-0.4,-0.5,-0.55,-0.3,-0.15,0.1,-0.1,-0.05,-0.2,-0.1,-0.15,-0.1,-0.4],
  [-0.35,-0.7,-0.85,-0.6,0.7,1.6,1.55,1.5,1.6,1.7,1.6,1.55,1.35,1.6,1.85,1.75,1.7,1.65,1.7,1.75,1.7,1.8,1.85,1.75,1.8,1.75,1.9,2.05,1.9,1.75],
  [-0.2,-0.35,-0.15,-0.3,-0.05,-0.2,0.05,-0.1,0.1,-0.1,0.05,-0.1,-0.3,-0.25,-0.4,-0.35,-0.5,-0.45,-0.45,-0.2,0.0,0.0,-0.15,-0.15,-0.1,-0.2,-0.05,-0.25],
  [-0.75,0.1,1.3,1.5,1.65,1.45,1.7,1.6,1.7,1.45,1.45,1.75,1.75,1.85,1.65,1.75,1.65,1.8,1.65,1.85,1.75,1.8,1.75,1.85,1.95,1.95,1.85]];
const r8c2 = [
  [0.8,0.1,0.15,0.2,-0.05,-0.25,-0.4,-0.2,-0.25,-0.35,-0.3,-0.35,-0.2,-0.1,-0.15,-0.05,-0.2,-0.5,0.1,0.35,0.4,0.05,-0.05,0.0,0.1,0.15,-0.15,-0.3,-0.4,-0.2,0.0,-0.1],
  [-0.1,-0.3,-0.85,-1.2,-0.6,0.8,1.15,1.1,0.95,1.1,1.3,1.15,0.85,1.05,1.3,1.35,1.45,1.5,1.6,1.65,1.7,1.75,1.8,1.85,1.9,1.95,1.9,2.0,2.15,2.0],
  [0.05,-0.2,-0.3,-0.3,-0.3,-0.2,-0.4,-0.25,-0.3,-0.1,-0.2,-0.05,-0.15,-0.3,-0.25,0.3,0.45,0.2,0.0,0.05,0.1,0.05,0.0,-0.25,-0.4,-0.3,-0.1,-0.05],
  [-1.1,-0.95,0.2,1.05,1.2,1.0,1.05,1.2,1.2,0.95,0.95,1.2,1.35,1.4,1.5,1.55,1.6,1.7,1.7,1.8,1.8,1.9,1.9,1.9,2.0,2.1,2.1]];
const r8c3 = [
  [-0.1,-0.4,-0.3,-0.05,0.0,-0.05,0.0,0.05,0.1,0.05,0.3,0.25,0.1,-0.1,-0.35,-0.2,-0.25,-0.15,-0.4,-0.2,0.1,0.3,0.5,0.25,0.35,0.3,0.45,-0.1,0.05,0.1,0.15,0.2],
  [0.4,0.35,0.2,-0.1,0.7,1.9,1.85,1.9,1.8,1.85,1.75,1.8,1.9,2.0,2.1,2.0,1.9,1.75,1.65,1.55,1.6,1.65,1.55,1.5,1.5,1.45,1.55,1.5,1.4,1.35],
  [0.05,-0.1,0.05,-0.05,0.1,0.05,0.15,0.25,0.2,0.0,-0.25,-0.25,-0.3,-0.15,-0.3,-0.3,-0.05,0.2,0.45,0.35,0.3,0.3,0.4,0.2,-0.05,0.1,0.1,0.2],
  [0.05,0.2,1.5,1.95,1.8,1.95,1.75,1.9,1.7,1.85,1.95,2.05,2.05,1.95,1.8,1.7,1.6,1.6,1.55,1.6,1.5,1.55,1.45,1.5,1.5,1.45,1.4]];
const r8c4 = [
  [1.05,0.6,0.4,0.3,0.2,0.1,0.05,0.0,-0.05,0.0,-0.1,-0.15,-0.2,-0.5,0.4,0.2,0.45,0.6,0.85,0.4,0.0,-0.1,0.2,-0.05,-0.15,-0.35,-0.45,-0.6,-0.5,-0.4,0.6,0.2],
  [-0.15,-0.5,-0.9,-1.05,-0.5,0.4,0.85,1.2,1.3,1.45,1.6,1.7,1.85,1.9,2.1,2.3,2.2,2.1,2.05,2.15,2.2,2.1,2.15,2.05,2.0,1.95,2.1,2.2,2.05,2.25],
  [0.2,0.15,0.1,-0.05,0.05,-0.1,-0.05,-0.15,-0.15,-0.35,-0.1,0.25,0.35,0.5,0.7,0.6,0.15,-0.05,0.1,0.05,-0.1,-0.25,-0.4,-0.55,-0.55,-0.45,0.1,0.4],
  [-1.0,-0.85,-0.05,0.65,1.0,1.3,1.35,1.55,1.65,1.8,1.8,2.0,2.25,2.25,2.15,2.1,2.1,2.2,2.15,2.15,2.1,2.0,2.05,2.0,2.15,2.1,2.15]];

const r9c1 = [
  [0.75,-0.1,0.0,-0.15,0.1,0.3,0.25,0.15,0.1,0.0,-0.05,-0.05,0.2,0.4,0.75,0.6,0.55,0.7,0.75,0.65,0.6,0.55,0.5,0.45,0.55,0.6,0.5,0.45,0.5,0.4,0.2,0.05],
  [0.3,0.5,0.2,0.6,1.6,4.0,4.4,4.75,4.3,4.6,4.5,4.35,4.4,4.35,4.5,4.55,4.45,4.5,4.45,4.5,4.45,4.4,4.5,4.35,4.4,4.45,4.35,4.4,4.5,4.35],
  [-0.05,0.2,0.25,0.2,0.1,0.05,0.05,-0.1,0.05,0.3,0.55,0.65,0.6,0.6,0.75,0.7,0.6,0.65,0.5,0.55,0.5,0.5,0.55,0.5,0.4,0.45,0.35,0.1],
  [0.4,0.35,3.4,4.2,4.6,4.5,4.45,4.45,4.6,4.4,4.35,4.45,4.4,4.5,4.4,4.55,4.4,4.5,4.4,4.5,4.4,4.45,4.35,4.45,4.4,4.45,4.4]];
const r9c2 = [
  [-1.4,-0.3,0.3,0.2,-0.05,-0.2,-0.35,-0.4,-0.45,-0.45,-0.35,-0.2,-0.1,0.15,0.4,-0.05,0.05,0.1,0.0,0.2,0.25,0.3,0.5,0.35,0.2,-0.1,-0.05,-0.2,-0.45,-0.2,0.0,0.3],
  [0.1,0.05,0.2,0.35,1.9,2.3,2.25,2.1,2.2,2.15,2.05,2.0,2.1,2.05,2.1,2.0,2.05,2.0,2.1,2.2,2.15,2.3,2.25,2.3,2.35,2.45,2.4,2.5,2.2,2.25],
  [0.05,-0.15,-0.3,-0.35,-0.5,-0.35,-0.5,-0.25,-0.2,0.0,0.3,0.25,0.0,0.1,0.0,0.1,0.15,0.3,0.35,0.45,0.3,0.05,-0.05,-0.15,-0.3,-0.35,-0.1,0.1],
  [0.3,0.4,2.2,2.2,2.2,2.2,2.1,2.2,2.0,2.1,2.0,2.15,2.05,2.05,2.0,2.1,2.15,2.1,2.25,2.2,2.35,2.25,2.4,2.45,2.5,2.35,2.2]];
const r9c3 = [
  [2.2,-1.5,0.0,-0.05,0.05,-0.1,0.5,-0.25,-0.35,-0.6,-0.85,-1.0,-1.05,-1.15,-1.0,-1.35,-1.2,-1.25,-1.1,-1.05,-1.0,-0.85,-0.9,-0.5,-0.75,-0.65,-0.7,-0.6,-0.85,-0.9,-1.4,-1.7],
  [-0.6,-1.1,-1.2,-0.9,-1.3,-0.4,0.75,0.8,0.95,1.1,0.75,0.6,0.4,0.55,0.5,1.3,1.35,1.6,1.55,1.7,1.75,1.85,2.0,1.9,1.75,1.8,1.65,1.85,1.75,1.9],
  [0.1,-0.15,0.2,0.1,-0.4,-0.45,-0.75,-0.9,-1.1,-0.95,-1.2,-1.2,-1.5,-1.15,-1.3,-1.0,-1.15,-0.95,-0.95,-0.75,-0.6,-0.65,-0.8,-0.6,-0.75,-0.8,-1.1,-1.55],
  [-1.0,-1.15,-0.95,0.4,0.9,0.75,1.05,0.95,0.65,0.55,0.5,0.45,0.9,1.4,1.45,1.5,1.7,1.6,1.85,1.75,1.9,1.95,1.8,1.7,1.8,1.7,1.85]];
const r9c4 = [
  [0.3,-0.45,-0.2,-0.25,-0.05,0.0,-0.15,-0.05,-0.1,0.0,-0.2,-0.1,0.05,-0.05,-0.3,0.3,0.1,-0.05,-0.1,-0.2,0.1,0.4,0.2,0.05,-0.1,-0.2,-0.05,0.0,0.05,0.15,0.3,0.6],
  [-0.3,-0.5,-0.3,-0.25,0.4,1.1,1.85,1.9,1.8,1.75,1.7,1.75,1.7,1.75,1.8,1.75,1.85,1.8,1.9,1.75,1.8,1.85,1.9,1.95,1.9,1.95,1.9,2.0,1.95,2.1],
  [-0.1,-0.2,0.05,-0.2,0.05,-0.15,-0.1,-0.05,-0.15,0.1,-0.2,-0.05,0.15,0.0,0.05,-0.2,-0.1,0.3,0.25,0.15,0.0,-0.2,-0.1,-0.1,0.1,0.0,0.25,0.4],
  [-0.2,-0.1,0.8,1.6,1.95,1.8,1.85,1.7,1.8,1.65,1.8,1.7,1.85,1.8,1.75,1.9,1.8,1.85,1.75,1.9,1.85,2.0,1.85,2.0,1.95,2.05,2.0]];

const r10c1 = [
  [0.5,-0.9,0.1,-0.05,0.6,0.9,0.75,0.8,0.7,0.6,0.55,0.6,0.65,0.3,0.45,1.3,0.55,0.4,0.35,0.4,0.3,0.35,0.45,0.5,0.55,0.65,0.7,0.6,0.5,0.85,0.2,0.2],
  [0.3,-0.05,-0.25,0.0,1.1,2.5,2.8,2.7,2.75,2.7,2.55,3.1,2.95,3.0,2.9,2.85,2.95,3.0,3.05,2.9,2.95,2.85,2.9,2.8,2.95,2.9,3.0,2.85,2.95,2.75],
  [0.35,0.75,0.8,0.9,0.65,0.75,0.5,0.65,0.55,0.5,0.35,0.9,0.85,0.45,0.45,0.3,0.45,0.4,0.3,0.5,0.4,0.6,0.6,0.75,0.5,0.6,0.55,0.15],
  [-0.1,0.4,2.0,2.75,2.65,2.8,2.65,2.75,2.8,3.0,2.85,3.05,2.8,2.95,2.9,3.05,2.95,3.0,2.85,2.95,2.8,2.9,2.85,3.0,2.95,2.9,2.85]];
const r10c2 = [
  [0.05,0.3,0.25,0.35,-0.05,-0.3,-0.5,-0.4,-0.45,-0.35,-0.55,-0.6,-0.5,-0.2,-0.4,-0.55,-0.6,-0.8,-0.95,-1.15,-0.9,-0.85,-0.8,-0.75,-0.65,-0.7,-0.55,-0.75,-0.85,-0.9,-0.95,-1.15],
  [-0.8,-1.0,-1.5,-1.0,-0.3,0.5,0.8,0.85,0.75,0.95,0.9,1.1,1.2,1.3,1.4,1.25,1.2,1.15,1.3,1.35,1.4,1.25,1.3,1.15,1.2,1.3,1.25,1.35,1.3,1.1],
  [0.1,-0.2,-0.45,-0.4,-0.55,-0.35,-0.5,-0.45,-0.65,-0.35,-0.35,-0.5,-0.45,-0.7,-0.75,-1.05,-1.0,-0.95,-0.8,-0.9,-0.7,-0.75,-0.6,-0.65,-0.8,-0.8,-1.0,-1.0],
  [-1.35,-0.7,0.15,0.7,0.9,0.7,0.9,0.85,1.0,1.05,1.25,1.4,1.3,1.35,1.15,1.25,1.25,1.4,1.3,1.35,1.2,1.25,1.3,1.2,1.35,1.25,1.25]];
const r10c3 = [
  [0.35,0.1,0.0,0.05,-0.1,-0.2,0.0,0.15,0.5,0.7,0.85,0.9,0.8,0.75,0.7,0.1,0.5,1.15,1.0,0.9,0.6,0.75,0.9,0.65,0.5,0.55,0.45,0.15,0.3,0.4,0.5,1.1],
  [1.05,0.6,0.2,0.1,0.25,0.35,0.5,0.6,0.8,1.2,2.0,2.8,3.2,3.5,3.6,3.55,3.5,3.45,3.4,3.6,3.8,3.85,3.9,3.95,4.0,3.95,3.9,4.0,3.95,3.85],
  [-0.05,-0.2,-0.1,0.1,0.3,0.6,0.8,0.95,0.8,0.85,0.65,0.5,0.3,0.9,1.05,0.95,0.75,0.65,0.85,0.75,0.55,0.6,0.45,0.3,0.25,0.35,0.45,0.8],
  [0.15,0.2,0.3,0.45,0.55,0.7,0.95,1.6,2.45,3.0,3.4,3.6,3.55,3.5,3.45,3.5,3.5,3.7,3.85,3.9,3.9,4.0,3.95,3.9,3.95,4.0,3.9]];
const r10c4 = [
  [-0.6,0.2,0.5,0.55,0.3,0.45,0.5,0.35,0.4,0.15,0.1,0.05,0.6,0.75,0.95,1.3,0.9,0.8,0.6,0.75,0.9,0.65,0.5,0.7,0.5,0.3,0.35,0.4,0.1,0.5,0.75,1.15],
  [1.2,0.6,0.5,0.8,0.4,2.5,3.0,3.1,3.2,3.05,2.95,2.8,2.9,2.85,2.95,2.9,3.0,2.85,2.9,2.85,2.95,2.9,3.0,2.85,2.9,2.85,3.1,3.05,2.9,2.95],
  [0.45,0.5,0.35,0.6,0.45,0.25,0.2,0.0,0.3,0.7,0.85,1.1,1.1,0.75,0.7,0.65,0.85,0.75,0.55,0.6,0.6,0.4,0.4,0.3,0.25,0.3,0.6,0.95],
  [0.65,0.6,1.5,2.85,3.1,3.0,3.15,2.95,2.9,2.9,2.8,2.95,2.85,2.95,2.9,2.95,2.8,2.95,2.85,2.95,2.9,2.95,2.85,3.0,3.15,2.95,2.95]];

const traces = [
  r1c1, r1c2, r1c3, r1c4,
  r2c1, r2c2, r2c3, r2c4,
  r3c1, r3c2, r3c3, r3c4,
  r4c1, r4c2, r4c3, r4c4,
  r5c1, r5c2, r5c3, r5c4,
  r6c1, r6c2, r6c3, r6c4,
  r7c1, r7c2, r7c3, r7c4,
  r8c1, r8c2, r8c3, r8c4,
  r9c1, r9c2, r9c3, r9c4,
  r10c1, r10c2, r10c3, r10c4
];

// ---- layout & style ----
const FONT = '"Liberation Sans", Arial, Helvetica, sans-serif';
const COLS = 4, ROWS = 10;
const panelLeft0 = 61.8, panelTop0 = 6.5, colStep = 296.5, rowStep = 118.4;
const panelW = 281.5, panelH = 98.5;
const xMin = -5, xMax = 1195, yMin = -2.9, yMax = 9.7;
const CYAN = '#19a9e1', MAGENTA = '#e8157f';
const TEXT = '#2a2a2a';

// merge main and in-between samples of one segment into time order
function segment(times, vals, midTimes, midVals) {
  const pts = times.map((t, k) => [t, vals[k]])
    .concat(midTimes.map((t, k) => [t, midVals[k]]));
  return pts.filter(p => p[1] !== undefined).sort((a, b) => a[0] - b[0]);
}

const grids = [], xAxes = [], yAxes = [], series = [];

traces.forEach((tr, i) => {
  const row = Math.floor(i / COLS), col = i % COLS;
  grids.push({
    left: panelLeft0 + col * colStep,
    top: panelTop0 + row * rowStep,
    width: panelW,
    height: panelH,
    show: true,
    borderColor: '#d5d5d5',
    borderWidth: 3,
    backgroundColor: 'transparent'
  });
  xAxes.push({
    type: 'value', gridIndex: i, min: xMin, max: xMax,
    axisLine: { show: false }, axisTick: { show: false }, splitLine: { show: false },
    axisLabel: row === ROWS - 1
      ? { show: true, customValues: xTickValues, formatter: v => String(v),
          margin: 9, fontSize: 15, color: TEXT, fontFamily: FONT }
      : { show: false }
  });
  yAxes.push({
    type: 'value', gridIndex: i, min: yMin, max: yMax,
    axisLine: { show: false }, axisTick: { show: false }, splitLine: { show: false },
    axisLabel: col === 0
      ? { show: true, customValues: yTickValues, formatter: v => String(v),
          margin: 11, fontSize: 15, color: TEXT, fontFamily: FONT }
      : { show: false }
  });

  // dashed reference lines and addition arrowheads
  const arrows = additionTimes.map((t, k) => {
    const item = {
      coord: [t, arrowLevel],
      itemStyle: { color: k === 0 ? CYAN : MAGENTA }
    };
    if (i === 0) {
      item.label = {
        show: true,
        formatter: additionLabels[k],
        position: [1, -10],
        align: 'left',
        verticalAlign: 'middle',
        color: k === 0 ? CYAN : MAGENTA,
        fontSize: 16,
        fontFamily: FONT
      };
    }
    return item;
  });
  series.push({
    type: 'line', xAxisIndex: i, yAxisIndex: i, data: [], silent: true, z: 1,
    markLine: {
      silent: true, symbol: ['none', 'none'], animation: false,
      label: { show: false },
      lineStyle: { color: '#cfcfcf', width: 1.8, type: [7, 4] },
      data: xGridValues.map(v => ({ xAxis: v })).concat(yGridValues.map(v => ({ yAxis: v })))
    },
    markPoint: {
      silent: true, animation: false,
      symbol: 'arrow', symbolSize: [7, 11], symbolRotate: 180,
      label: { show: false },
      data: arrows
    }
  });

  [segment(timeBefore, tr[0], timeBeforeMid, tr[2]),
   segment(timeAfter, tr[1], timeAfterMid, tr[3])].forEach(pts => {
    series.push({
      type: 'line', xAxisIndex: i, yAxisIndex: i, z: 3,
      data: pts,
      showSymbol: false, symbol: 'none', silent: true,
      lineStyle: { color: '#1b1b1b', width: 1.1 },
      animation: false
    });
  });
});

const chart = echarts.init(document.getElementById('chart'), null, { renderer: 'canvas' });
chart.setOption({
  backgroundColor: '#ffffff',
  animation: false,
  textStyle: { fontFamily: FONT },
  grid: grids,
  xAxis: xAxes,
  yAxis: yAxes,
  series: series,
  graphic: [
    {
      type: 'text', x: 18, y: 589, rotation: Math.PI / 2, silent: true,
      style: {
        text: '{a|Normalized intensity (10}{s|-3}{a|)}',
        align: 'center', verticalAlign: 'middle',
        textAlign: 'center', textVerticalAlign: 'middle',
        fill: TEXT,
        rich: {
          a: { fontSize: 15.5, fontFamily: FONT, color: TEXT, lineHeight: 18 },
          s: { fontSize: 10, fontFamily: FONT, color: TEXT, lineHeight: 18, verticalAlign: 'top', padding: [0, 0, 7, 0] }
        }
      }
    },
    {
      type: 'text', x: 648, y: 1208, silent: true,
      style: {
        text: 'Time (s)', fontSize: 16, fontFamily: FONT, fill: TEXT,
        align: 'center', verticalAlign: 'middle',
        textAlign: 'center', textVerticalAlign: 'middle'
      }
    }
  ]
});
</script>
</body>
</html>
